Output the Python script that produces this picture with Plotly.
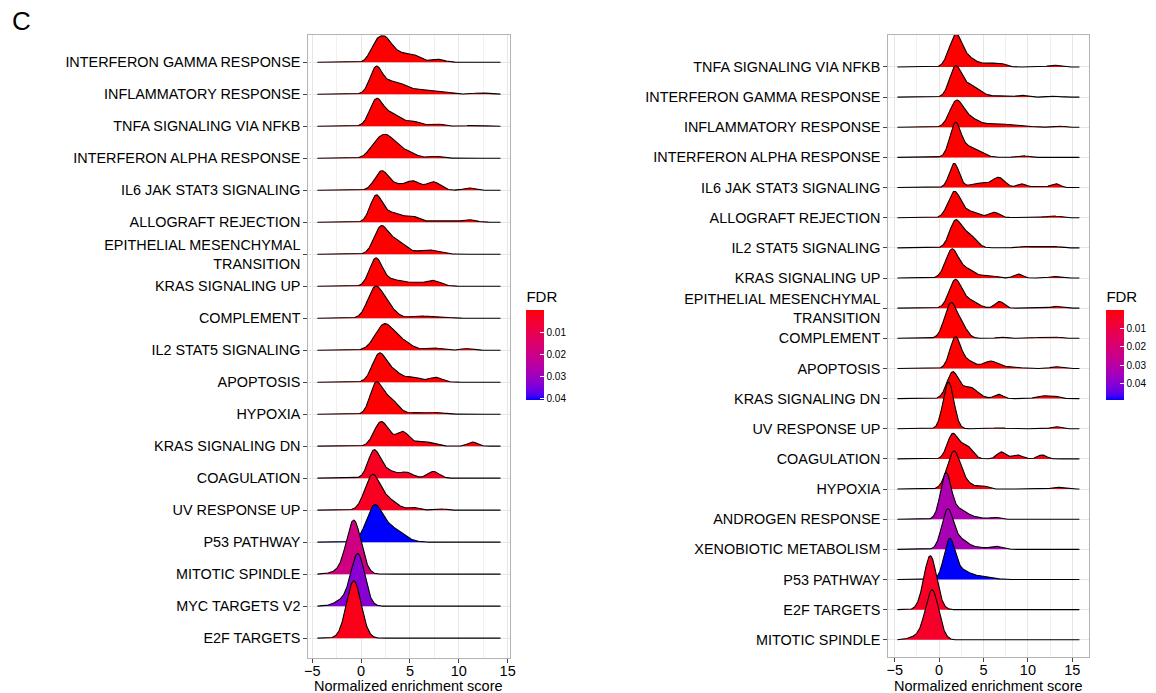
import numpy as np
import plotly.graph_objects as go

# ---------------- data ----------------
LEFT_TERMS = ["INTERFERON GAMMA RESPONSE", "INFLAMMATORY RESPONSE", "TNFA SIGNALING VIA NFKB",
              "INTERFERON ALPHA RESPONSE", "IL6 JAK STAT3 SIGNALING", "ALLOGRAFT REJECTION",
              "EPITHELIAL MESENCHYMAL<br>TRANSITION", "KRAS SIGNALING UP", "COMPLEMENT",
              "IL2 STAT5 SIGNALING", "APOPTOSIS", "HYPOXIA", "KRAS SIGNALING DN", "COAGULATION",
              "UV RESPONSE UP", "P53 PATHWAY", "MITOTIC SPINDLE", "MYC TARGETS V2", "E2F TARGETS"]
LEFT_FDR = [0.0001, 0.0001, 0.0001, 0.0001, 0.0001, 0.0001, 0.0001, 0.0001, 0.0001, 0.0001,
            0.0001, 0.0001, 0.001, 0.003, 0.003, 0.0405, 0.019, 0.033, 0.002]
LEFT_FDR_RANGE = (0.0001, 0.0405)
LEFT_SCORE_RANGE = (-4.47, 14.27)
# density peaks per term: (centre NES, width, height in ridge units)
LEFT_PEAKS = [
    [(2.3, 0.8, 0.75), (1.3, 0.5, 0.25), (4.2, 1.0, 0.25), (5.6, 0.6, 0.12), (7.8, 0.7, 0.09)],
    [(1.5, 0.6, 0.7), (3.2, 1.3, 0.4), (6.5, 1.2, 0.12), (8.5, 0.8, 0.05), (12.2, 0.8, 0.04)],
    [(1.5, 0.65, 0.7), (3.0, 1.1, 0.4), (5.5, 0.6, 0.12), (7.6, 0.7, 0.08), (11.5, 1.0, 0.02)],
    [(2.4, 1.0, 0.72), (4.5, 1.0, 0.2), (7.6, 0.6, 0.06), (1.2, 0.5, 0.1)],
    [(2.1, 0.7, 0.6), (3.7, 0.7, 0.15), (5.3, 0.7, 0.28), (7.4, 0.7, 0.26), (11.0, 0.5, 0.07)],
    [(1.5, 0.6, 0.75), (3.0, 1.0, 0.3), (5.2, 0.7, 0.17), (7.8, 1.0, 0.04), (11.0, 0.7, 0.08)],
    [(2.0, 0.7, 0.8), (3.6, 0.9, 0.42), (6.8, 1.0, 0.14)],
    [(1.5, 0.65, 0.85), (3.2, 0.9, 0.2), (5.2, 0.8, 0.1), (7.3, 0.8, 0.18)],
    [(1.4, 0.75, 0.9), (2.7, 0.8, 0.35), (5.8, 0.8, 0.07), (7.8, 0.8, 0.06)],
    [(2.3, 0.9, 0.75), (4.0, 1.0, 0.3), (7.4, 0.8, 0.07), (10.8, 0.5, 0.05)],
    [(1.8, 0.7, 0.8), (3.2, 0.9, 0.35), (5.4, 0.7, 0.14), (7.6, 0.7, 0.15)],
    [(1.5, 0.6, 0.9), (2.9, 0.8, 0.5), (5.8, 0.8, 0.05), (7.8, 0.7, 0.05)],
    [(2.0, 0.7, 0.72), (4.3, 0.6, 0.38), (3.2, 0.8, 0.15), (6.3, 1.0, 0.15), (11.4, 0.5, 0.13)],
    [(1.3, 0.6, 0.82), (2.6, 0.8, 0.25), (4.6, 0.7, 0.18), (7.4, 0.6, 0.21)],
    [(1.1, 0.75, 1.0), (2.6, 1.0, 0.35), (5.4, 0.5, 0.08), (7.9, 0.6, 0.05)],
    [(1.3, 0.8, 1.0), (3.0, 1.2, 0.45)],
    [(-0.75, 0.75, 1.68), (-2.4, 0.8, 0.07)],
    [(-0.33, 0.7, 1.62), (-1.9, 0.8, 0.18)],
    [(-0.75, 0.75, 1.79)],
]

RIGHT_TERMS = ["TNFA SIGNALING VIA NFKB", "INTERFERON GAMMA RESPONSE", "INFLAMMATORY RESPONSE",
               "INTERFERON ALPHA RESPONSE", "IL6 JAK STAT3 SIGNALING", "ALLOGRAFT REJECTION",
               "IL2 STAT5 SIGNALING", "KRAS SIGNALING UP", "EPITHELIAL MESENCHYMAL<br>TRANSITION",
               "COMPLEMENT", "APOPTOSIS", "KRAS SIGNALING DN", "UV RESPONSE UP", "COAGULATION",
               "HYPOXIA", "ANDROGEN RESPONSE", "XENOBIOTIC METABOLISM", "P53 PATHWAY",
               "E2F TARGETS", "MITOTIC SPINDLE"]
RIGHT_FDR = [0.0, 0.0, 0.0, 0.0, 0.0, 0.0, 0.0, 0.0, 0.0, 0.0, 0.0, 0.0, 0.0, 0.001, 0.001,
             0.033, 0.034, 0.049, 0.004, 0.005]
RIGHT_FDR_RANGE = (0.0, 0.049)
RIGHT_SCORE_RANGE = (-4.7, 15.8)
RIGHT_PEAKS = [
    [(1.9, 0.65, 0.95), (1.0, 0.5, 0.15), (3.2, 0.9, 0.3), (5.8, 1.0, 0.12), (7.0, 0.5, 0.06), (12.9, 0.6, 0.06)],
    [(1.8, 0.65, 0.9), (3.4, 1.1, 0.4), (6.8, 0.8, 0.04), (9.3, 0.6, 0.06), (12.9, 0.6, 0.03)],
    [(1.9, 0.75, 0.8), (3.4, 1.0, 0.3), (6.5, 1.2, 0.13), (9.3, 1.0, 0.05), (13.3, 0.6, 0.05)],
    [(1.8, 0.6, 1.0), (3.3, 1.2, 0.35), (9.3, 0.6, 0.06)],
    [(1.7, 0.55, 0.8), (4.5, 1.0, 0.15), (6.7, 0.7, 0.33), (9.3, 0.5, 0.12), (11.2, 0.7, 0.05), (13.1, 0.5, 0.13)],
    [(1.7, 0.7, 0.85), (3.5, 0.9, 0.2), (6.2, 0.6, 0.18), (10.3, 1.0, 0.04), (12.9, 0.6, 0.06)],
    [(1.8, 0.65, 0.85), (3.3, 0.8, 0.45), (9.3, 0.6, 0.05), (11.1, 0.6, 0.05), (12.9, 0.6, 0.05)],
    [(1.4, 0.7, 0.9), (3.0, 0.9, 0.3), (5.5, 0.8, 0.08), (8.9, 0.5, 0.13), (12.9, 0.5, 0.05)],
    [(1.8, 0.7, 0.9), (3.4, 0.9, 0.25), (6.8, 0.5, 0.22), (13.1, 0.5, 0.06)],
    [(1.3, 0.7, 1.15), (2.6, 0.6, 0.35), (7.0, 0.5, 0.04), (11.6, 0.8, 0.03), (13.1, 0.5, 0.04)],
    [(1.8, 0.6, 1.0), (3.2, 0.8, 0.25), (5.8, 0.8, 0.24), (8.0, 1.0, 0.05), (13.1, 0.5, 0.06)],
    [(1.5, 0.65, 0.85), (3.4, 0.9, 0.38), (6.7, 0.5, 0.14), (11.5, 0.6, 0.09), (12.9, 0.6, 0.09)],
    [(1.05, 0.6, 1.55), (6.7, 0.8, 0.03), (13.1, 0.5, 0.07)],
    [(1.5, 0.6, 0.8), (3.0, 0.7, 0.45), (7.0, 0.5, 0.23), (8.8, 0.6, 0.13), (11.6, 0.5, 0.13)],
    [(1.65, 0.75, 1.25), (3.2, 0.7, 0.15), (4.9, 0.6, 0.1), (13.3, 0.6, 0.06)],
    [(0.75, 0.6, 1.5), (2.3, 0.8, 0.3), (4.0, 1.0, 0.06), (6.3, 0.5, 0.06)],
    [(0.95, 0.65, 1.3), (2.5, 0.8, 0.3), (4.5, 0.8, 0.06), (6.4, 0.6, 0.1)],
    [(1.15, 0.6, 1.25), (2.5, 1.0, 0.3), (5.0, 1.0, 0.1)],
    [(-1.0, 0.72, 1.79)],
    [(-0.8, 0.75, 1.65), (-2.6, 0.8, 0.1)],
]

X_TICKS = [-5, 0, 5, 10, 15]
X_TICK_TEXT = ["\u22125", "0", "5", "10", "15"]
X_TITLE = "Normalized enrichment score"
CBAR_TICKS = [0.01, 0.02, 0.03, 0.04]

# ---------------- colour helpers (Lab gradient red -> blue) ----------------
WHITE = np.array([0.95047, 1.0, 1.08883])
M = np.array([[0.4124564, 0.3575761, 0.1804375],
              [0.2126729, 0.7151522, 0.0721750],
              [0.0193339, 0.1191920, 0.9503041]])
MI = np.linalg.inv(M)


def hex2lab(h):
    c = np.array([int(h[i:i + 2], 16) for i in (1, 3, 5)]) / 255.0
    lin = np.where(c <= 0.04045, c / 12.92, ((c + 0.055) / 1.055) ** 2.4)
    xyz = M @ lin / WHITE
    f = np.where(xyz > 0.008856, np.cbrt(xyz), 7.787 * xyz + 16 / 116)
    return np.array([116 * f[1] - 16, 500 * (f[0] - f[1]), 200 * (f[1] - f[2])])


def lab2rgb(lab):
    L, a, b = lab
    fy = (L + 16) / 116
    fx = fy + a / 500
    fz = fy - b / 200
    f = np.array([fx, fy, fz])
    xyz = np.where(f ** 3 > 0.008856, f ** 3, (f - 16 / 116) / 7.787) * WHITE
    lin = np.clip(MI @ xyz, 0, 1)
    c = np.where(lin <= 0.0031308, 12.92 * lin, 1.055 * lin ** (1 / 2.4) - 0.055)
    c = np.clip(np.round(c * 255), 0, 255).astype(int)
    return "rgb(%d,%d,%d)" % tuple(c)


LAB_LOW = hex2lab("#FF0000")
LAB_HIGH = hex2lab("#0000FF")


def grad(t):
    t = min(max(t, 0.0), 1.0)
    return lab2rgb(LAB_LOW + t * (LAB_HIGH - LAB_LOW))


# colorbar: values are -FDR so that small FDR (red) sits on top
CSCALE = [[p, grad(1 - p)] for p in np.linspace(0, 1, 21)]

FONT = "Liberation Sans, Arial, Helvetica, sans-serif"

fig = go.Figure()


def add_panel(terms, fdrs, peaks, fdr_range, score_range, xa, ya, cbar_x):
    n = len(terms)
    xs = np.linspace(score_range[0], score_range[1], 500)
    fmin, fmax = fdr_range
    for i, (term, fdr, pk) in enumerate(zip(terms, fdrs, peaks)):
        base = n - i
        dens = np.zeros_like(xs)
        for mu, sd, h in pk:
            dens += h * np.exp(-0.5 * ((xs - mu) / sd) ** 2)
        col = grad((fdr - fmin) / (fmax - fmin))
        fig.add_trace(go.Scatter(
            x=np.concatenate([xs, xs[::-1]]),
            y=np.concatenate([base + dens, np.full_like(xs, base)]),
            fill="toself", fillcolor=col, mode="lines", line=dict(width=0, color=col),
            xaxis=xa, yaxis=ya, hoverinfo="skip", showlegend=False))
        fig.add_trace(go.Scatter(
            x=xs, y=base + dens, mode="lines", line=dict(color="black", width=1.1),
            xaxis=xa, yaxis=ya, name=term.replace("<br>", " "), showlegend=False))
    # colour bar carrier
    fig.add_trace(go.Scatter(
        x=[-100, -100], y=[1, 1], xaxis=xa, yaxis=ya, mode="markers", showlegend=False,
        hoverinfo="skip",
        marker=dict(color=[-fmax, -fmin], cmin=-fmax, cmax=-fmin, colorscale=CSCALE,
                    showscale=True,
                    colorbar=dict(x=cbar_x, xanchor="left", y=1 - 400 / 693, yanchor="bottom",
                                  len=112, lenmode="pixels", thickness=18, thicknessmode="pixels",
                                  outlinewidth=0, xpad=0, ypad=0,
                                  tickvals=[-v for v in CBAR_TICKS],
                                  ticktext=["%.2f" % v for v in CBAR_TICKS],
                                  ticks="inside", ticklen=4, tickcolor="white",
                                  tickfont=dict(size=10, color="black", family=FONT),
                                  title=dict(text="FDR", side="top",
                                             font=dict(size=15, color="black", family=FONT))))))


add_panel(LEFT_TERMS, LEFT_FDR, LEFT_PEAKS, LEFT_FDR_RANGE, LEFT_SCORE_RANGE, "x", "y", 527 / 1156)
add_panel(RIGHT_TERMS, RIGHT_FDR, RIGHT_PEAKS, RIGHT_FDR_RANGE, RIGHT_SCORE_RANGE, "x2", "y2", 1112 / 1156)


def xaxis_cfg(domain, rng, anchor):
    return dict(domain=domain, range=rng, anchor=anchor, tickvals=X_TICKS, ticktext=X_TICK_TEXT,
                showgrid=True, gridcolor="#E6E6E6", gridwidth=1,
                minor=dict(dtick=2.5, tick0=0, showgrid=True, gridcolor="#F0F0F0", gridwidth=1),
                zeroline=False, showline=True, mirror=True, linecolor="#B3B3B3", linewidth=1,
                ticks="outside", ticklen=4, tickcolor="#444444", ticklabelstandoff=-4,
                tickfont=dict(size=14.5, color="black", family=FONT))


def yaxis_cfg(domain, rng, terms, anchor):
    n = len(terms)
    return dict(domain=domain, range=rng, anchor=anchor,
                tickvals=[n - i for i in range(n)], ticktext=terms,
                showgrid=True, gridcolor="#E6E6E6", gridwidth=1, zeroline=False,
                showline=True, mirror=True, linecolor="#B3B3B3", linewidth=1,
                ticks="outside", ticklen=4, tickcolor="#444444",
                tickfont=dict(size=14.4, color="black", family=FONT))


fig.update_layout(
    width=1156, height=693, margin=dict(l=0, r=0, t=0, b=0),
    paper_bgcolor="white", plot_bgcolor="white", showlegend=False,
    font=dict(family=FONT, color="black"),
    xaxis=xaxis_cfg([307 / 1156, 510 / 1156], [-5.40, 15.20], "y"),
    yaxis=yaxis_cfg([1 - 658 / 693, 1 - 35 / 693], [0.38, 19.85], LEFT_TERMS, "x"),
    xaxis2=xaxis_cfg([892 / 1156, 1094 / 1156], [-5.73, 16.83], "y2"),
    yaxis2=yaxis_cfg([1 - 657 / 693, 1 - 35 / 693], [0.43, 21.06], RIGHT_TERMS, "x2"),
    annotations=[
        dict(text="C", x=6 / 1156, y=1 - 21 / 693, xref="paper", yref="paper",
             xanchor="left", yanchor="middle", showarrow=False,
             font=dict(size=26, color="black", family=FONT)),
        dict(text=X_TITLE, x=(307 + 510) / 2 / 1156, y=1 - 686 / 693, xref="paper", yref="paper",
             xanchor="center", yanchor="middle", showarrow=False,
             font=dict(size=14.5, color="black", family=FONT)),
        dict(text=X_TITLE, x=(892 + 1094) / 2 / 1156, y=1 - 686 / 693, xref="paper", yref="paper",
             xanchor="center", yanchor="middle", showarrow=False,
             font=dict(size=14.5, color="black", family=FONT)),
    ],
)

fig.write_html("out.html", config={"displayModeBar": False},
               post_script="document.body.style.margin='0';document.body.style.padding='0';"
                           "window.dispatchEvent(new Event('resize'));")
